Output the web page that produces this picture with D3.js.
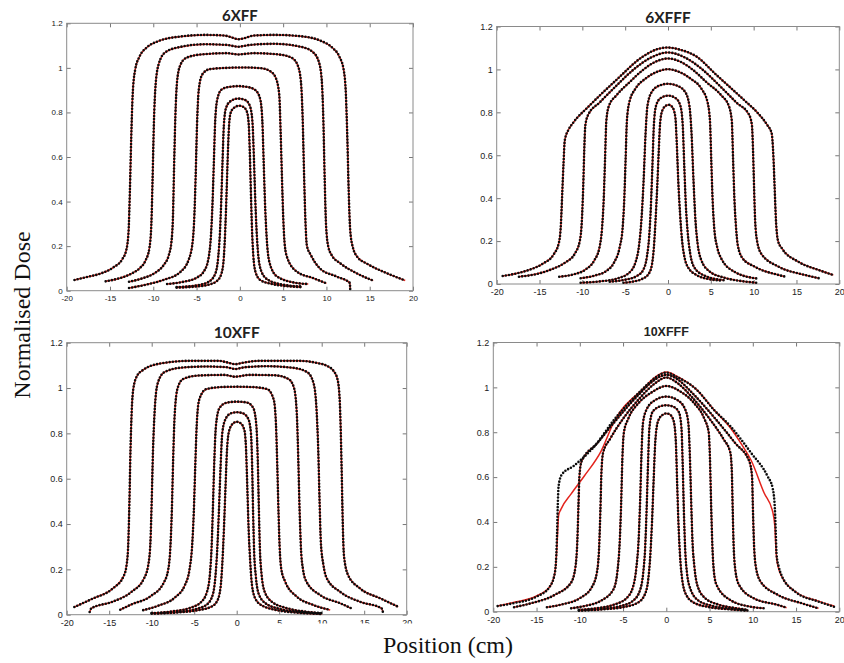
<!DOCTYPE html>
<html><head><meta charset="utf-8">
<script src="https://cdn.jsdelivr.net/npm/d3@7"></script>
<style>body{margin:0;background:#fff}svg{display:block}</style>
</head><body>
<svg id="fig" width="844" height="663"></svg>
<script>
// Axis ticks shared by all four panels
const xTicks = [-20, -15, -10, -5, 0, 5, 10, 15, 20];
const yTicks = [0, 0.2, 0.4, 0.6, 0.8, 1, 1.2];
const fieldSizes = [2, 3, 5, 10, 15, 20, 25]; // cm, one profile each

// ---- 6 MV flattened: measured profiles [position cm, normalised dose]
const ff6_2 = [[-7.3,0.014],[-5.0,0.019],[-3.5,0.028],[-2.6,0.045],[-2.1,0.08],[-1.85,0.15],[-1.7,0.26],[-1.55,0.42],[-1.4,0.6],[-1.25,0.74],[-1.05,0.8],[-0.6,0.823],[-0.1,0.83],[0.4,0.825],[0.8,0.805],[1.02,0.75],[1.15,0.62],[1.27,0.45],[1.4,0.28],[1.55,0.16],[1.8,0.085],[2.35,0.048],[3.5,0.032],[5.0,0.022],[7.1,0.016]];
const ff6_3 = [[-7.3,0.016],[-5.0,0.024],[-3.6,0.04],[-2.85,0.075],[-2.5,0.15],[-2.3,0.26],[-2.15,0.4],[-2.0,0.58],[-1.85,0.74],[-1.6,0.82],[-1.1,0.85],[-0.2,0.862],[0.6,0.856],[1.15,0.83],[1.45,0.76],[1.62,0.6],[1.77,0.42],[1.92,0.28],[2.1,0.17],[2.45,0.09],[3.2,0.05],[5.0,0.027],[7.1,0.019]];
const ff6_5 = [[-8.4,0.03],[-6.5,0.04],[-5.0,0.058],[-4.1,0.09],[-3.6,0.15],[-3.35,0.24],[-3.15,0.4],[-3.0,0.58],[-2.85,0.76],[-2.6,0.86],[-2.1,0.903],[-1.2,0.915],[-0.2,0.918],[0.9,0.914],[1.8,0.9],[2.35,0.86],[2.6,0.76],[2.75,0.58],[2.9,0.4],[3.08,0.25],[3.4,0.13],[4.25,0.065],[6.2,0.037],[7.9,0.03]];
const ff6_10 = [[-12.8,0.012],[-10.5,0.03],[-8.7,0.05],[-6.9,0.083],[-5.9,0.14],[-5.45,0.22],[-5.25,0.34],[-5.1,0.52],[-4.95,0.74],[-4.75,0.9],[-4.35,0.97],[-3.5,0.994],[-1.5,1.0],[0.5,1.002],[2.5,0.998],[3.5,0.985],[4.15,0.955],[4.55,0.88],[4.72,0.7],[4.87,0.5],[5.02,0.32],[5.2,0.2],[5.5,0.145],[6.6,0.085],[8.5,0.056],[10.0,0.033]];
const ff6_15 = [[-12.8,0.04],[-11.3,0.055],[-9.8,0.08],[-8.8,0.115],[-8.2,0.16],[-7.9,0.22],[-7.72,0.34],[-7.6,0.55],[-7.45,0.78],[-7.25,0.94],[-6.9,1.01],[-6.2,1.045],[-4.5,1.06],[-1.5,1.066],[-0.2,1.06],[1.5,1.066],[4.5,1.06],[6.0,1.045],[6.7,1.01],[7.05,0.94],[7.25,0.78],[7.4,0.55],[7.55,0.34],[7.75,0.2],[8.2,0.16],[9.25,0.1],[11.2,0.063],[12.7,0.035],[12.75,0.004]];
const ff6_20 = [[-15.5,0.042],[-14.0,0.055],[-12.6,0.075],[-11.6,0.1],[-10.9,0.135],[-10.45,0.19],[-10.22,0.3],[-10.08,0.5],[-9.93,0.75],[-9.72,0.93],[-9.35,1.02],[-8.6,1.07],[-7.0,1.093],[-4.0,1.106],[-1.5,1.103],[-0.2,1.095],[1.2,1.103],[4.0,1.108],[7.0,1.095],[8.4,1.072],[9.1,1.03],[9.45,0.95],[9.65,0.76],[9.8,0.5],[9.95,0.3],[10.2,0.2],[10.6,0.16],[11.6,0.123],[13.5,0.078],[15.4,0.045]];
const ff6_25 = [[-19.1,0.048],[-17.6,0.062],[-16.0,0.078],[-14.6,0.105],[-13.6,0.14],[-13.1,0.185],[-12.85,0.27],[-12.7,0.45],[-12.55,0.68],[-12.38,0.88],[-12.1,0.99],[-11.6,1.05],[-10.8,1.09],[-9.4,1.12],[-7.0,1.14],[-4.0,1.148],[-1.8,1.145],[-0.8,1.135],[-0.2,1.128],[0.5,1.133],[1.6,1.145],[4.0,1.148],[7.0,1.142],[9.3,1.122],[10.7,1.09],[11.5,1.05],[12.0,0.99],[12.25,0.88],[12.42,0.68],[12.57,0.45],[12.75,0.27],[13.05,0.195],[13.6,0.15],[14.65,0.122],[17.0,0.078],[19.1,0.046]];

// ---- 6 MV flattening-filter-free
const fff6_2 = [[-5.2,0.006],[-4.0,0.012],[-3.0,0.024],[-2.3,0.045],[-1.9,0.085],[-1.65,0.17],[-1.45,0.3],[-1.25,0.46],[-1.08,0.62],[-0.92,0.75],[-0.65,0.81],[-0.2,0.832],[0.1,0.835],[0.5,0.825],[0.85,0.78],[1.02,0.66],[1.2,0.48],[1.42,0.32],[1.65,0.2],[1.95,0.12],[2.3,0.08],[3.4,0.04],[4.6,0.024],[6.1,0.016]];
const fff6_3 = [[-6.8,0.011],[-5.0,0.02],[-3.6,0.038],[-2.9,0.065],[-2.45,0.13],[-2.2,0.22],[-2.0,0.36],[-1.82,0.55],[-1.65,0.74],[-1.4,0.83],[-0.9,0.865],[0,0.878],[0.9,0.866],[1.45,0.83],[1.72,0.74],[1.9,0.55],[2.08,0.37],[2.3,0.24],[2.6,0.14],[3.1,0.075],[4.2,0.04],[6.6,0.017]];
const fff6_5 = [[-10.2,0.006],[-8.0,0.012],[-6.0,0.025],[-4.6,0.05],[-3.8,0.1],[-3.35,0.19],[-3.1,0.3],[-2.85,0.48],[-2.62,0.7],[-2.4,0.83],[-1.9,0.895],[-1.0,0.925],[0,0.933],[1.0,0.925],[2.0,0.895],[2.5,0.83],[2.75,0.7],[2.98,0.48],[3.2,0.3],[3.45,0.19],[3.9,0.11],[4.8,0.06],[6.5,0.03],[8.5,0.014],[10.3,0.006]];
const fff6_10 = [[-10.2,0.027],[-8.5,0.04],[-7.3,0.058],[-6.3,0.1],[-5.65,0.17],[-5.3,0.26],[-5.1,0.4],[-4.95,0.58],[-4.8,0.76],[-4.5,0.85],[-3.8,0.91],[-2.6,0.958],[-1.2,0.99],[0,1.001],[1.2,0.99],[2.6,0.958],[3.9,0.91],[4.6,0.85],[4.9,0.76],[5.05,0.58],[5.2,0.4],[5.4,0.26],[5.75,0.17],[6.2,0.12],[7.75,0.057],[10.3,0.026]];
const fff6_15 = [[-12.7,0.034],[-11.0,0.045],[-9.6,0.068],[-8.6,0.11],[-8.0,0.17],[-7.7,0.26],[-7.5,0.4],[-7.35,0.58],[-7.2,0.76],[-6.9,0.83],[-6.0,0.88],[-4.5,0.94],[-3.0,0.995],[-1.5,1.035],[0,1.051],[1.5,1.035],[3.0,0.995],[4.5,0.94],[6.2,0.88],[7.1,0.83],[7.45,0.76],[7.6,0.58],[7.75,0.4],[7.95,0.26],[8.15,0.18],[8.7,0.12],[10.1,0.081],[12.9,0.042],[13.6,0.035]];
const fff6_20 = [[-17.4,0.034],[-15.5,0.045],[-13.5,0.07],[-12.0,0.1],[-10.9,0.14],[-10.3,0.2],[-10.05,0.3],[-9.9,0.45],[-9.78,0.62],[-9.65,0.74],[-9.3,0.79],[-8.0,0.845],[-6.0,0.925],[-4.0,1.0],[-2.0,1.055],[0,1.079],[2.0,1.055],[4.0,1.0],[6.0,0.925],[8.0,0.845],[9.45,0.79],[9.8,0.74],[9.93,0.62],[10.05,0.45],[10.17,0.3],[10.4,0.2],[10.9,0.14],[12.9,0.081],[16.0,0.042],[17.6,0.027]];
const fff6_25 = [[-19.3,0.037],[-17.6,0.05],[-16.2,0.066],[-14.6,0.095],[-13.4,0.135],[-12.75,0.19],[-12.5,0.28],[-12.35,0.42],[-12.2,0.56],[-12.05,0.67],[-11.6,0.72],[-11.1,0.75],[-9.2,0.83],[-6.0,0.952],[-3.0,1.058],[-1.2,1.095],[0,1.102],[1.3,1.093],[3.4,1.058],[5.5,0.98],[7.35,0.913],[9.0,0.853],[10.5,0.796],[11.6,0.74],[12.1,0.703],[12.3,0.6],[12.45,0.45],[12.6,0.3],[12.85,0.2],[13.3,0.166],[15.2,0.104],[17.6,0.065],[19.3,0.042]];

// ---- 10 MV flattened
const ff10_2 = [[-10.0,0.005],[-7.0,0.01],[-4.5,0.02],[-3.0,0.035],[-2.3,0.06],[-1.9,0.12],[-1.7,0.22],[-1.5,0.38],[-1.32,0.56],[-1.15,0.72],[-0.9,0.81],[-0.45,0.843],[0,0.851],[0.45,0.845],[0.9,0.815],[1.1,0.73],[1.25,0.56],[1.4,0.38],[1.58,0.24],[1.8,0.13],[2.2,0.07],[3.0,0.04],[5.0,0.018],[7.5,0.008],[10.0,0.003]];
const ff10_3 = [[-10.0,0.006],[-7.0,0.012],[-4.8,0.025],[-3.5,0.045],[-2.8,0.09],[-2.5,0.17],[-2.3,0.28],[-2.1,0.45],[-1.9,0.65],[-1.7,0.8],[-1.35,0.86],[-0.7,0.888],[0,0.893],[0.7,0.889],[1.35,0.865],[1.68,0.8],[1.82,0.65],[1.93,0.45],[2.05,0.28],[2.25,0.17],[2.6,0.09],[3.4,0.05],[5.0,0.026],[7.5,0.012],[10.0,0.005]];
const ff10_5 = [[-10.0,0.007],[-7.5,0.015],[-5.5,0.03],[-4.2,0.055],[-3.5,0.1],[-3.15,0.18],[-2.95,0.3],[-2.8,0.47],[-2.65,0.66],[-2.45,0.83],[-2.05,0.91],[-1.2,0.935],[0,0.94],[1.2,0.936],[1.95,0.912],[2.3,0.84],[2.48,0.68],[2.6,0.48],[2.72,0.3],[2.92,0.18],[3.3,0.1],[4.2,0.055],[6.0,0.028],[8.0,0.014],[10.0,0.007]];
const ff10_10 = [[-11.0,0.02],[-9.2,0.04],[-7.3,0.075],[-6.1,0.13],[-5.55,0.2],[-5.25,0.3],[-5.05,0.45],[-4.88,0.65],[-4.7,0.84],[-4.4,0.95],[-3.6,0.995],[-2.0,1.004],[0,1.006],[2.0,1.004],[3.6,0.995],[4.35,0.95],[4.62,0.84],[4.78,0.65],[4.92,0.45],[5.05,0.3],[5.25,0.2],[5.7,0.146],[7.06,0.08],[9.0,0.043],[11.0,0.021]];
const ff10_15 = [[-13.7,0.022],[-12.4,0.045],[-10.2,0.08],[-8.6,0.14],[-8.05,0.2],[-7.8,0.3],[-7.63,0.46],[-7.48,0.68],[-7.3,0.88],[-6.95,1.0],[-6.3,1.04],[-4.5,1.055],[-1.5,1.058],[-0.2,1.05],[1.5,1.058],[4.5,1.056],[6.1,1.04],[6.75,1.0],[7.08,0.88],[7.25,0.68],[7.4,0.46],[7.55,0.3],[7.8,0.2],[8.2,0.146],[9.8,0.087],[12.2,0.05],[13.5,0.028]];
const ff10_20 = [[-17.3,0.012],[-17.1,0.028],[-14.6,0.057],[-12.4,0.1],[-10.9,0.16],[-10.4,0.22],[-10.15,0.32],[-10.0,0.5],[-9.85,0.72],[-9.65,0.9],[-9.3,1.02],[-8.5,1.07],[-6.5,1.09],[-3.5,1.095],[-1.2,1.092],[-0.2,1.084],[1.0,1.092],[3.5,1.096],[6.5,1.09],[8.3,1.07],[9.05,1.02],[9.4,0.9],[9.6,0.72],[9.75,0.5],[9.9,0.32],[10.2,0.22],[10.6,0.16],[12.2,0.1],[14.5,0.057],[17.05,0.028],[17.2,0.012]];
const ff10_25 = [[-19.1,0.034],[-17.0,0.07],[-14.6,0.115],[-13.3,0.17],[-12.95,0.22],[-12.75,0.32],[-12.62,0.5],[-12.5,0.72],[-12.35,0.9],[-12.15,1.0],[-11.7,1.055],[-11.0,1.08],[-9.0,1.108],[-5.5,1.12],[-2.2,1.12],[-1.0,1.112],[-0.2,1.105],[0.8,1.112],[2.8,1.12],[7.2,1.12],[9.5,1.11],[10.6,1.098],[11.4,1.075],[11.85,1.04],[12.1,0.96],[12.25,0.8],[12.37,0.6],[12.48,0.4],[12.62,0.26],[13.1,0.175],[14.5,0.116],[16.9,0.072],[19.0,0.035]];

// ---- 10 MV flattening-filter-free
const fff10_2 = [[-10.1,0.005],[-7.5,0.01],[-5.0,0.02],[-3.3,0.04],[-2.5,0.075],[-2.1,0.14],[-1.85,0.25],[-1.65,0.4],[-1.45,0.6],[-1.27,0.76],[-0.95,0.85],[-0.45,0.877],[0,0.884],[0.45,0.878],[0.85,0.85],[1.1,0.76],[1.25,0.58],[1.4,0.4],[1.58,0.254],[1.85,0.14],[2.3,0.075],[3.2,0.04],[5.0,0.02],[7.5,0.01],[9.4,0.005]];
const fff10_3 = [[-10.1,0.006],[-7.5,0.013],[-5.2,0.026],[-3.8,0.05],[-3.0,0.1],[-2.65,0.18],[-2.45,0.28],[-2.28,0.45],[-2.12,0.65],[-1.95,0.82],[-1.6,0.89],[-0.8,0.914],[0,0.92],[0.8,0.914],[1.45,0.89],[1.75,0.82],[1.9,0.65],[2.03,0.45],[2.18,0.28],[2.4,0.17],[2.8,0.1],[3.7,0.05],[5.3,0.026],[7.5,0.013],[9.4,0.006]];
const fff10_5 = [[-10.1,0.008],[-8.0,0.016],[-6.0,0.032],[-4.6,0.06],[-3.85,0.11],[-3.45,0.2],[-3.2,0.32],[-3.02,0.5],[-2.87,0.7],[-2.7,0.84],[-2.3,0.9],[-1.3,0.943],[0,0.959],[1.3,0.943],[2.2,0.9],[2.55,0.84],[2.72,0.7],[2.87,0.5],[3.02,0.32],[3.25,0.2],[3.65,0.11],[4.5,0.06],[6.0,0.032],[8.0,0.016],[9.4,0.008]];
const fff10_10 = [[-11.0,0.015],[-9.6,0.024],[-7.5,0.05],[-6.1,0.1],[-5.65,0.18],[-5.4,0.3],[-5.22,0.48],[-5.08,0.68],[-4.9,0.8],[-4.4,0.86],[-3.2,0.93],[-1.6,0.98],[0,1.006],[1.6,0.982],[3.2,0.93],[4.4,0.86],[4.9,0.8],[5.05,0.68],[5.18,0.48],[5.32,0.3],[5.5,0.18],[5.8,0.12],[7.4,0.052],[9.76,0.022],[11.3,0.015]];
const fff10_15 = [[-13.8,0.02],[-12.0,0.033],[-10.0,0.06],[-8.6,0.11],[-8.0,0.18],[-7.75,0.3],[-7.62,0.45],[-7.5,0.62],[-7.3,0.71],[-6.5,0.77],[-5.0,0.86],[-3.0,0.955],[-1.4,1.015],[0,1.044],[1.4,1.016],[3.0,0.955],[5.0,0.86],[6.6,0.77],[7.4,0.71],[7.58,0.62],[7.68,0.45],[7.78,0.3],[8.0,0.18],[8.4,0.12],[10.1,0.06],[12.9,0.03],[13.9,0.018]];
const fff10_20 = [[-17.6,0.02],[-15.7,0.037],[-12.9,0.075],[-11.0,0.13],[-10.5,0.2],[-10.28,0.32],[-10.15,0.48],[-10.05,0.6],[-9.8,0.67],[-8.0,0.75],[-6.0,0.845],[-3.0,0.975],[-1.3,1.035],[0,1.056],[1.3,1.036],[3.0,0.975],[6.0,0.845],[8.0,0.75],[9.6,0.67],[9.92,0.6],[10.0,0.48],[10.12,0.32],[10.35,0.2],[10.9,0.134],[12.9,0.075],[15.7,0.037],[17.6,0.015]];
const fff10_25 = [[-19.5,0.025],[-17.8,0.037],[-15.0,0.067],[-13.5,0.11],[-12.9,0.17],[-12.72,0.25],[-12.62,0.36],[-12.55,0.47],[-12.45,0.56],[-12.1,0.61],[-10.7,0.65],[-8.3,0.738],[-6.0,0.857],[-2.8,0.99],[-1.2,1.045],[0,1.066],[1.3,1.045],[3.5,0.99],[5.5,0.9],[7.4,0.827],[9.8,0.708],[11.7,0.604],[12.3,0.55],[12.55,0.46],[12.65,0.36],[12.75,0.254],[13.0,0.2],[13.3,0.164],[14.9,0.089],[17.6,0.045],[19.4,0.022]];
// calculated 25 cm 10XFFF profile (differs from measurement at the shoulders)
const fff10_25calc = [[-19.5,0.025],[-17.8,0.04],[-15.0,0.07],[-13.5,0.11],[-12.9,0.17],[-12.7,0.25],[-12.58,0.34],[-12.45,0.43],[-12.2,0.455],[-11.0,0.525],[-9.5,0.604],[-7.55,0.715],[-6.0,0.85],[-2.8,0.99],[-1.2,1.048],[0,1.068],[1.3,1.048],[3.5,0.99],[5.5,0.9],[7.4,0.82],[8.8,0.74],[9.8,0.675],[11.3,0.53],[12.3,0.445],[12.55,0.38],[12.65,0.3],[12.75,0.24],[13.0,0.19],[13.3,0.16],[14.9,0.09],[17.6,0.047],[19.4,0.025]];

const ff6 = [ff6_2, ff6_3, ff6_5, ff6_10, ff6_15, ff6_20, ff6_25];
const fff6 = [fff6_2, fff6_3, fff6_5, fff6_10, fff6_15, fff6_20, fff6_25];
const ff10 = [ff10_2, ff10_3, ff10_5, ff10_10, ff10_15, ff10_20, ff10_25];
const fff10 = [fff10_2, fff10_3, fff10_5, fff10_10, fff10_15, fff10_20, fff10_25];
const fff10Calc = [fff10_2, fff10_3, fff10_5, fff10_10, fff10_15, fff10_20, fff10_25calc];

// Panel layout: plot box [left, top, right, bottom]
const panels = [
  {title: "6XFF",   measured: ff6,   calculated: ff6,       box: [66.7, 23.3, 413, 290.7],   tfont: "Lato", tsize: 15,   tdy: -2.5, lsize: 8},
  {title: "6XFFF",  measured: fff6,  calculated: fff6,      box: [496.7, 26.5, 839.3, 284],  tfont: "Lato", tsize: 15.5, tdy: -3.5, lsize: 9},
  {title: "10XFF",  measured: ff10,  calculated: ff10,      box: [66.7, 342.7, 406.7, 614.7], tfont: "Lato", tsize: 15.5, tdy: -4.5, lsize: 9},
  {title: "10XFFF", measured: fff10, calculated: fff10Calc, box: [493.3, 342.5, 839.3, 611.7], tfont: "Liberation Sans", tsize: 12.5, tdy: -7, lsize: 9}
];

const svg = d3.select("#fig");

panels.forEach(p => {
  const [x0, y0, x1, y1] = p.box;
  const x = d3.scaleLinear().domain([-20, 20]).range([x0, x1]);
  const y = d3.scaleLinear().domain([0, 1.2]).range([y1, y0]);
  const g = svg.append("g");

  const styleAxis = (sel, labels) => {
    sel.select(".domain").remove();
    sel.selectAll(".tick line").attr("stroke", "#555").attr("stroke-width", 0.8);
    sel.selectAll(".tick text")
      .attr("fill", labels ? "#222" : "none")
      .style("font-family", "'Liberation Sans', Arial, sans-serif")
      .style("font-size", p.lsize + "px");
  };

  g.append("g").attr("transform", `translate(0,${y1})`)
    .call(d3.axisBottom(x).tickValues(xTicks).tickSize(-4).tickPadding(5).tickFormat(d => String(d)))
    .call(s => styleAxis(s, true));
  g.append("g").attr("transform", `translate(0,${y0})`)
    .call(d3.axisTop(x).tickValues(xTicks).tickSize(-4).tickFormat(""))
    .call(s => styleAxis(s, false));
  g.append("g").attr("transform", `translate(${x0},0)`)
    .call(d3.axisLeft(y).tickValues(yTicks).tickSize(-4).tickPadding(4).tickFormat(d => String(d)))
    .call(s => styleAxis(s, true));
  g.append("g").attr("transform", `translate(${x1},0)`)
    .call(d3.axisRight(y).tickValues(yTicks).tickSize(-4).tickFormat(""))
    .call(s => styleAxis(s, false));

  g.append("rect").attr("x", x0).attr("y", y0)
    .attr("width", x1 - x0).attr("height", y1 - y0)
    .attr("fill", "none").attr("stroke", "#8a8a8a").attr("stroke-width", 1);

  const line = d3.line().x(d => x(d[0])).y(d => y(d[1])).curve(d3.curveMonotoneX);

  // calculated dose: red lines
  g.append("g").selectAll("path").data(p.calculated).join("path")
    .attr("d", line).attr("fill", "none")
    .attr("stroke", "#e3231c").attr("stroke-width", 1.5);

  // measured dose: black point series
  g.append("g").selectAll("path").data(p.measured).join("path")
    .attr("d", line).attr("fill", "none")
    .attr("stroke", "#0c0c0c").attr("stroke-width", 2.6)
    .attr("stroke-linecap", "round").attr("stroke-dasharray", "0 3.2");

  g.append("text")
    .attr("x", (x0 + x1) / 2).attr("y", y0 + p.tdy)
    .attr("text-anchor", "middle")
    .style("font-family", p.tfont + ", sans-serif")
    .style("font-weight", "bold").style("font-size", p.tsize + "px")
    .attr("fill", "#222").text(p.title);
});

// backing of the shared x-axis title overlaps the lower-left tick row
svg.append("rect").attr("x", 252).attr("y", 623.5).attr("width", 170).attr("height", 18).attr("fill", "#fff");

svg.append("text")
  .attr("x", 448).attr("y", 653)
  .attr("text-anchor", "middle")
  .style("font-family", "'Liberation Serif', 'Times New Roman', serif")
  .style("font-size", "24px").attr("fill", "#111")
  .text("Position (cm)");

svg.append("text")
  .attr("transform", "translate(30,315) rotate(-90)")
  .attr("text-anchor", "middle")
  .style("font-family", "'Liberation Serif', 'Times New Roman', serif")
  .style("font-size", "24px").attr("fill", "#111")
  .text("Normalised Dose");
</script>
</body></html>
